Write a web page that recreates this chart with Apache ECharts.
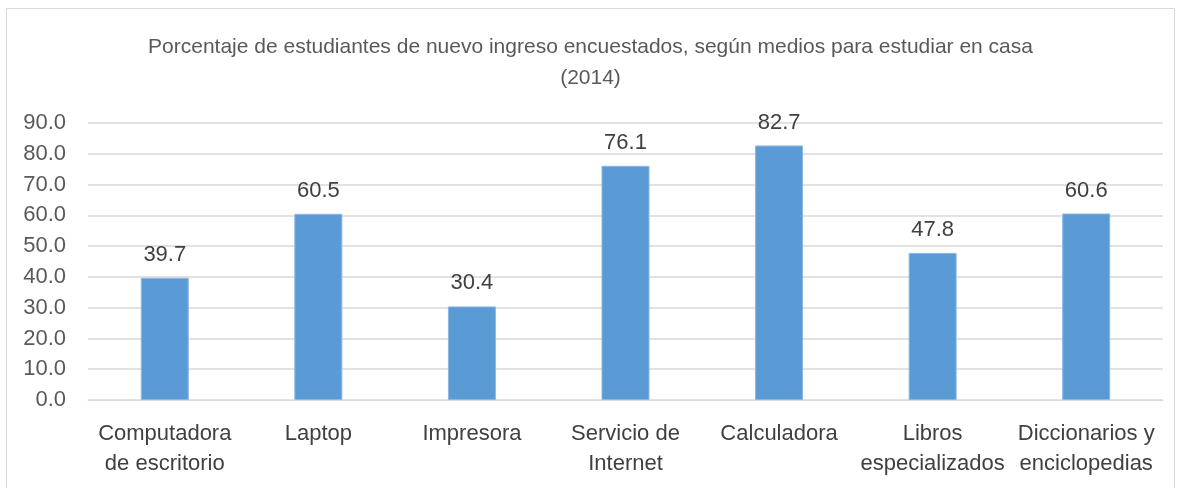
<!DOCTYPE html>
<html>
<head>
<meta charset="utf-8">
<script src="https://cdn.jsdelivr.net/npm/echarts@6/dist/echarts.min.js"></script>
<style>
  html, body { margin: 0; padding: 0; background: #fff; }
  #chart { width: 1181px; height: 488px; }
</style>
</head>
<body>
<div id="chart"></div>
<script>
const categories = [
  'Computadora\nde escritorio',
  'Laptop',
  'Impresora',
  'Servicio de\nInternet',
  'Calculadora',
  'Libros\nespecializados',
  'Diccionarios y\nenciclopedias',
];
const values = [39.7, 60.5, 30.4, 76.1, 82.7, 47.8, 60.6];
const titleText = 'Porcentaje de estudiantes de nuevo ingreso encuestados, según medios para estudiar en casa\n(2014)';

const fontFamily = '"Liberation Sans Narrow", "Liberation Sans", Arial, sans-serif';

const chart = echarts.init(document.getElementById('chart'));
chart.setOption({
  animation: false,
  textStyle: { fontFamily: fontFamily },
  graphic: [{
    type: 'rect',
    shape: { x: 6.5, y: 8.5, width: 1168, height: 490 },
    style: { fill: 'none', stroke: '#d9d9d9', lineWidth: 1 },
  }],
  title: {
    text: titleText,
    left: 'center',
    top: 27,
    textStyle: {
      fontFamily: fontFamily,
      fontSize: 21,
      fontWeight: 'normal',
      color: '#595959',
      lineHeight: 31,
    },
  },
  grid: { left: 88, right: 18, top: 123, bottom: 88 },
  xAxis: {
    type: 'category',
    data: categories,
    axisTick: { show: false },
    axisLine: { lineStyle: { color: '#d9d9d9' } },
    axisLabel: {
      color: '#404040',
      fontSize: 22,
      lineHeight: 30,
      margin: 19,
      interval: 0,
    },
  },
  yAxis: {
    type: 'value',
    min: 0,
    max: 90,
    interval: 10,
    axisLine: { show: false },
    axisTick: { show: false },
    splitLine: { lineStyle: { color: '#d9d9d9', width: 1.5 } },
    axisLabel: {
      color: '#595959',
      fontSize: 22,
      margin: 22,
      formatter: v => v.toFixed(1),
    },
  },
  series: [{
    type: 'bar',
    data: values,
    barWidth: 48,
    itemStyle: { color: '#5b9bd5', borderColor: '#8ab8e4', borderWidth: 1 },
    label: {
      show: true,
      position: 'top',
      distance: 12,
      color: '#404040',
      fontSize: 22,
      fontFamily: fontFamily,
      formatter: p => p.value.toFixed(1),
    },
  }],
});
</script>
</body>
</html>
